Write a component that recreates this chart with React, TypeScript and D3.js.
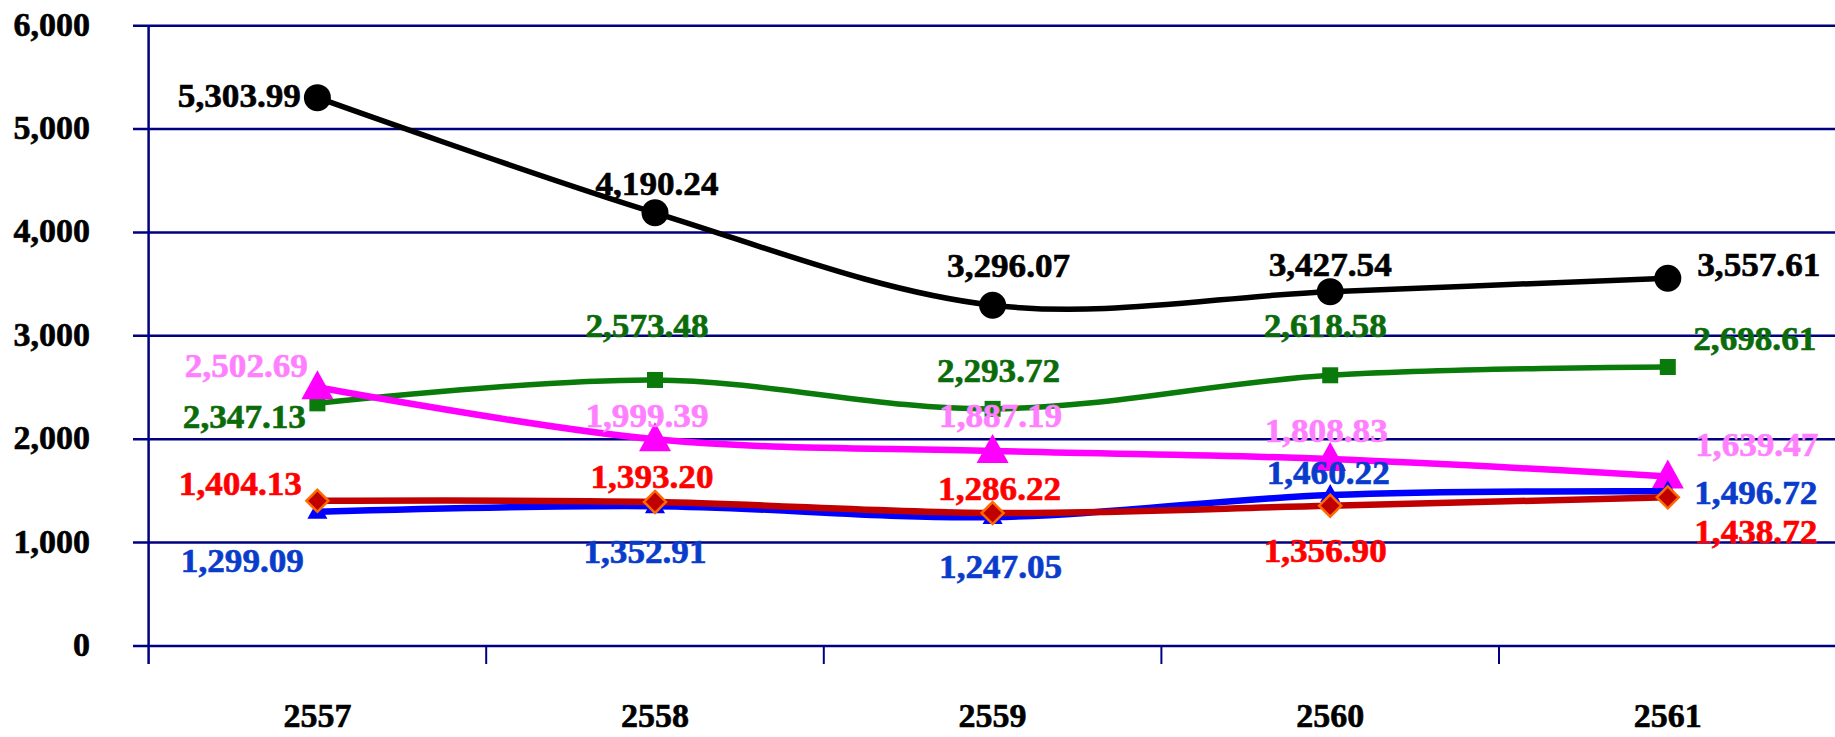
import React, { useEffect, useRef } from "react";
import * as d3 from "d3";

const years = ["2557", "2558", "2559", "2560", "2561"];
const blackValues = [5303.99, 4190.24, 3296.07, 3427.54, 3557.61];
const greenValues = [2347.13, 2573.48, 2293.72, 2618.58, 2698.61];
const magentaValues = [2502.69, 1999.39, 1887.19, 1808.83, 1639.47];
const redValues = [1404.13, 1393.2, 1286.22, 1356.9, 1438.72];
const blueValues = [1299.09, 1352.91, 1247.05, 1460.22, 1496.72];
const yTicks = [0, 1000, 2000, 3000, 4000, 5000, 6000];

// label offsets (dx, dy) from the point, text centered
const blackLabelPos = [[-78, 9], [2, -18], [16, -28], [0, -16], [91, -2]];
const greenLabelPos = [[-73, 25], [-8, -43], [6, -27], [-5, -38], [87, -17]];
const magentaLabelPos = [[-71, -10], [-8, -12], [8, -24], [-4, -17], [89, -21]];
const redLabelPos = [[-77, -6], [-3, -14], [7, -13], [-5, 56], [88, 46]];
const blueLabelPos = [[-75, 60], [-10, 57], [8, 61], [-2, -11], [88, 13]];

const App = () => {
  const ref = useRef<SVGSVGElement | null>(null);

  useEffect(() => {
    drawChart();
  }, []);

  const drawChart = () => {
    const w = 1835;
    const svg = d3.select(ref.current);
    svg.selectAll("*").remove();

    const font = "'Liberation Serif', 'Times New Roman', serif";
    const navy = "#000080";

    const x = d3.scaleBand().domain(years).range([148.6, 148.6 + 337.6 * 5]);
    const y = d3.scaleLinear().domain([0, 6000]).range([646, 25.7]);
    const cx = (i: number) => (x(years[i]) as number) + x.bandwidth() / 2;

    // gridlines
    svg.append("g")
      .selectAll("line")
      .data(yTicks)
      .enter()
      .append("line")
      .attr("x1", 133)
      .attr("x2", w)
      .attr("y1", (d) => y(d))
      .attr("y2", (d) => y(d))
      .attr("stroke", navy)
      .attr("stroke-width", 2.5);

    // y axis line
    svg.append("line")
      .attr("x1", 148.6).attr("x2", 148.6)
      .attr("y1", y(6000)).attr("y2", 664)
      .attr("stroke", navy).attr("stroke-width", 2.5);

    // x ticks at band boundaries
    svg.append("g")
      .selectAll("line")
      .data(years)
      .enter()
      .append("line")
      .attr("x1", (d) => (x(d) as number) + x.bandwidth())
      .attr("x2", (d) => (x(d) as number) + x.bandwidth())
      .attr("y1", 646)
      .attr("y2", 664)
      .attr("stroke", navy)
      .attr("stroke-width", 2);

    // y tick labels
    svg.append("g")
      .selectAll("text")
      .data(yTicks)
      .enter()
      .append("text")
      .attr("x", 90)
      .attr("y", (d) => y(d) + 10)
      .attr("text-anchor", "end")
      .attr("font-family", font)
      .attr("font-weight", "bold")
      .attr("font-size", 34)
      .attr("stroke", "#000")
      .attr("stroke-width", 0.6)
      .text((d) => d3.format(",")(d));

    // category labels
    svg.append("g")
      .selectAll("text")
      .data(years)
      .enter()
      .append("text")
      .attr("x", (d, i) => cx(i))
      .attr("y", 727)
      .attr("text-anchor", "middle")
      .attr("font-family", font)
      .attr("font-weight", "bold")
      .attr("font-size", 34)
      .attr("stroke", "#000")
      .attr("stroke-width", 0.6)
      .text((d) => d);

    const line = d3.line<number>()
      .x((d, i) => cx(i))
      .y((d) => y(d))
      .curve(d3.curveCatmullRom.alpha(0));

    const series = [
      { values: greenValues, color: "#0a7a0a", label: "#0b6b0b", width: 5.5, marker: "square", pos: greenLabelPos },
      { values: magentaValues, color: "#ff00ff", label: "#ff80ff", width: 6.5, marker: "bigTri", pos: magentaLabelPos },
      { values: blueValues, color: "#0000ff", label: "#0a3ccc", width: 6.5, marker: "smallTri", pos: blueLabelPos },
      { values: redValues, color: "#c00000", label: "#ff0000", width: 6.5, marker: "diamond", pos: redLabelPos },
      { values: blackValues, color: "#000000", label: "#000000", width: 5.5, marker: "circle", pos: blackLabelPos },
    ];

    series.forEach((s) => {
      const g = svg.append("g");
      g.append("path")
        .attr("d", line(s.values))
        .attr("fill", "none")
        .attr("stroke", s.color)
        .attr("stroke-width", s.width);

      const pts = g.selectAll(".pt")
        .data(s.values)
        .enter()
        .append("g")
        .attr("transform", (d, i) => "translate(" + cx(i) + "," + y(d) + ")");

      if (s.marker === "circle") {
        pts.append("circle").attr("r", 13.5).attr("fill", s.color);
      } else if (s.marker === "square") {
        pts.append("rect").attr("x", -8).attr("y", -8).attr("width", 16).attr("height", 16).attr("fill", s.color);
      } else if (s.marker === "bigTri") {
        pts.append("path").attr("d", "M0,-17 L16,12 L-16,12 Z").attr("fill", s.color);
      } else if (s.marker === "smallTri") {
        pts.append("path").attr("d", "M0,-11 L10,7 L-10,7 Z").attr("fill", s.color);
      } else if (s.marker === "diamond") {
        pts.append("path").attr("d", "M0,-11 L11,0 L0,11 L-11,0 Z")
          .attr("fill", s.color).attr("stroke", "#ff6a00").attr("stroke-width", 2.5);
      }

      g.selectAll(".lbl")
        .data(s.values)
        .enter()
        .append("text")
        .attr("transform", (d, i) =>
          "translate(" + (cx(i) + s.pos[i][0]) + "," + (y(d) + s.pos[i][1]) + ") scale(1.05,1)")
        .attr("text-anchor", "middle")
        .attr("font-family", font)
        .attr("font-weight", "bold")
        .attr("font-size", 33.5)
        .attr("fill", s.label)
        .attr("stroke", s.label)
        .attr("stroke-width", 0.6)
        .text((d) => d3.format(",.2f")(d));
    });
  };

  return (
    <div>
      <svg
        ref={ref}
        width={1835}
        height={737}
        style={{ position: "absolute", left: 0, top: 0, background: "#fff" }}
      />
    </div>
  );
};

export default App;
